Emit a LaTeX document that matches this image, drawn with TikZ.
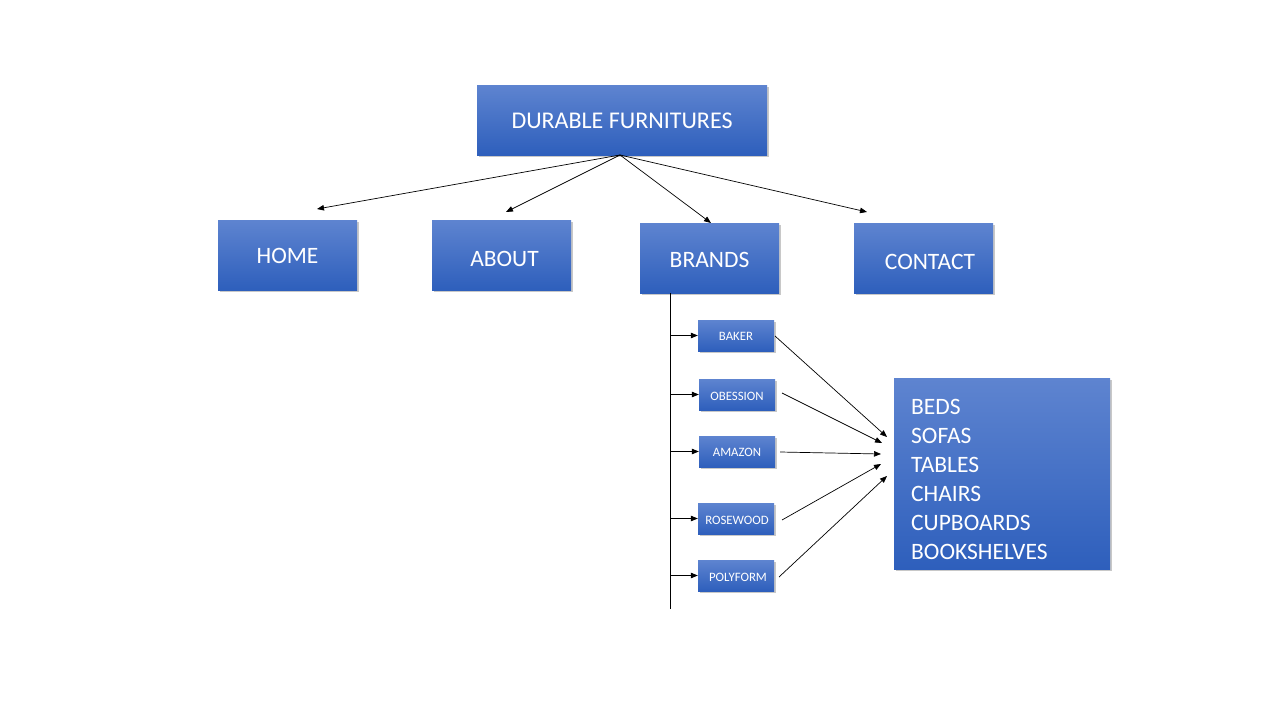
\documentclass[tikz,border=0pt]{standalone}
\usepackage{fontspec}
\setmainfont{Carlito}
\usetikzlibrary{arrows.meta,shadows}
\definecolor{boxtop}{RGB}{94,132,208}
\definecolor{boxbot}{RGB}{46,95,188}
\newcommand{\dropby}[2]{\raisebox{-#1}[\height][\depth]{#2}}
\tikzset{
  bluebox/.style={draw=none, top color=boxtop, bottom color=boxbot, text=white,
    inner sep=0pt, drop shadow={opacity=0.3, fill=black!70, shadow xshift=1.5pt, shadow yshift=-1.8pt}},
  bigbox/.style={bluebox, minimum width=139pt, minimum height=70pt, font=\fontsize{23.5}{26}\selectfont},
  brandbox/.style={bluebox, minimum width=76pt, minimum height=31pt, font=\fontsize{12.8}{14}\selectfont},
  arr/.style={-{Triangle[length=7pt,width=5.5pt]}, line width=0.7pt, black},
}
\begin{document}
\begin{tikzpicture}[x=1pt,y=-1pt]
\useasboundingbox[fill=white] (0,0) rectangle (1280,720);
% top
\node[bigbox, minimum width=290pt, font=\fontsize{24}{27}\selectfont] (dur) at (622,120) {\dropby{1pt}{DURABLE FURNITURES}};
\node[bigbox] (home) at (287.5,255) {\dropby{1pt}{HOME}};
\node[bigbox] (about) at (501.5,255) {\hspace*{6pt}\dropby{4pt}{ABOUT}};
\node[bigbox] (brands) at (709.5,258) {\dropby{2pt}{BRANDS}};
\node[bigbox] (contact) at (923.5,258) {\hspace*{13pt}\dropby{4pt}{CONTACT}};
% arrow ends
\coordinate (eh) at (317,209);
\coordinate (ea) at (506,212);
\coordinate (eb) at (711,223);
\coordinate (ec) at (867,212);
\coordinate (src) at (620,155);
\draw[arr] (src) -- (eh);
\draw[arr] (src) -- (ea);
\draw[arr] (src) -- (eb);
\draw[arr] (src) -- (ec);
% brands trunk
\coordinate (trunkend) at (670,609);
\draw[line width=0.8pt] (brands.south -| trunkend) -- (trunkend);
\node[brandbox] (baker) at (736,335.5) {\dropby{1pt}{BAKER}};
\node[brandbox] (obes) at (737,394.5) {\dropby{2pt}{OBESSION}};
\node[brandbox] (amaz) at (737,451.5) {\dropby{1pt}{AMAZON}};
\node[brandbox] (rose) at (736,518.5) {\hspace*{2pt}\dropby{2pt}{ROSEWOOD}};
\node[brandbox] (poly) at (736,575.5) {\hspace*{4pt}\dropby{2pt}{POLYFORM}};
\foreach \b in {baker,obes,amaz,rose,poly}{
  \draw[arr] (\b.west -| trunkend) -- (\b.west);
}
% right box
\node[bluebox, minimum width=216pt, minimum height=191pt, anchor=north west] (items) at (894,378) {};
\node[text=white, align=left, anchor=west, inner sep=0pt,
  font=\fontsize{23.5}{29}\selectfont] (itemstext) at (911,479)
  {BEDS\\SOFAS\\TABLES\\CHAIRS\\CUPBOARDS\\BOOKSHELVES};
\coordinate (t1) at (887,437);
\coordinate (t2) at (882,443);
\coordinate (t3) at (881,454);
\coordinate (t4) at (881,464);
\coordinate (t5) at (887,476);
\coordinate (s1) at (775,336);
\coordinate (s2) at (782,393);
\coordinate (s3) at (780,452);
\coordinate (s4) at (782,520);
\coordinate (s5) at (779,577);
\draw[arr] (s1) -- (t1);
\draw[arr] (s2) -- (t2);
\draw[arr] (s3) -- (t3);
\draw[arr] (s4) -- (t4);
\draw[arr] (s5) -- (t5);
\end{tikzpicture}
\end{document}
